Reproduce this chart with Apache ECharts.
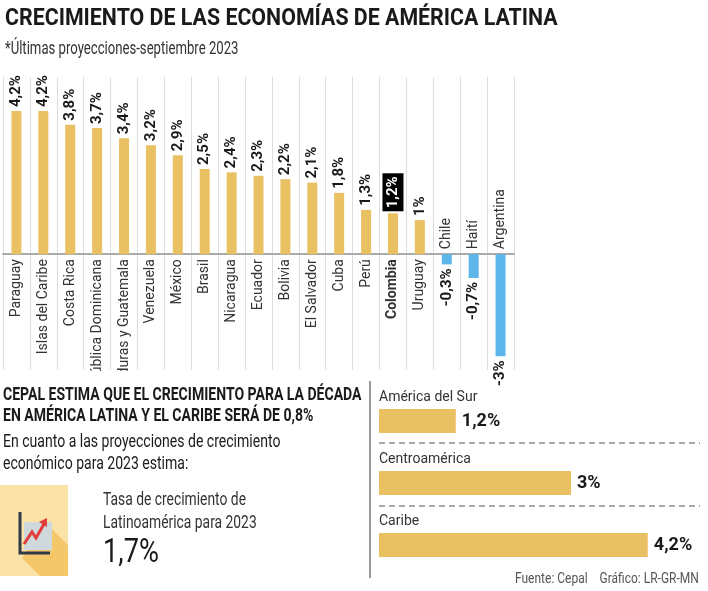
<!DOCTYPE html>
<html>
<head>
<meta charset="utf-8">
<script src="https://cdn.jsdelivr.net/npm/echarts@6/dist/echarts.min.js"></script>
<style>html,body{margin:0;padding:0;background:#fff}#main{width:708px;height:591px}</style>
</head>
<body>
<div id="main"></div>
<script>
var paises = ['Paraguay', 'Islas del Caribe', 'Costa Rica', 'República Dominicana', 'Honduras y Guatemala', 'Venezuela', 'México', 'Brasil', 'Nicaragua', 'Ecuador', 'Bolivia', 'El Salvador', 'Cuba', 'Perú', 'Colombia', 'Uruguay', 'Chile', 'Haití', 'Argentina'];
var crecimiento = [4.2, 4.2, 3.8, 3.7, 3.4, 3.2, 2.9, 2.5, 2.4, 2.3, 2.2, 2.1, 1.8, 1.3, 1.2, 1, -0.3, -0.7, -3];
var regiones = ['América del Sur', 'Centroamérica', 'Caribe'];
var regionValores = [1.2, 3, 4.2];

var FONT = 'Roboto, "Noto Sans", sans-serif';
var AMARILLO = '#e9c163', AZUL = '#5cb6ea';
function pct(v){ return String(v).replace('.', ',') + '%'; }
// textos estrechados (la fuente original es condensada)
function texto(x, y, t, size, sx, extra){
    var st = { text: t, fontFamily: FONT, fontSize: size, fill: '#1a1a1a' };
    for (var k in extra) st[k] = extra[k];
    return { type: 'text', x: x, y: y, scaleX: sx, z: 60, style: st };
}

var chart = echarts.init(document.getElementById('main'));

// barras principales
var barras = crecimiento.map(function(v, i){
    var neg = v < 0;
    var lab = {
        show: true, rotate: 90, fontFamily: FONT, fontWeight: 'bold', fontSize: 15, color: '#1a1a1a',
        position: neg ? 'bottom' : 'top', align: neg ? 'right' : 'left', verticalAlign: 'middle', distance: 4,
        formatter: pct(v)
    };
    if (paises[i] == 'Colombia') {
        lab.backgroundColor = '#000'; lab.color = '#fff'; lab.padding = [3, 3, 3, 3]; lab.distance = 2;
    }
    return { value: v, itemStyle: { color: neg ? AZUL : AMARILLO }, label: lab };
});
// nombres de los paises
var nombres = crecimiento.map(function(v, i){
    var neg = v < 0;
    return {
        value: 0,
        label: {
            show: true, rotate: 90, fontFamily: FONT, fontSize: 14, color: '#333',
            fontWeight: paises[i] == 'Colombia' ? 'bold' : 'normal',
            position: neg ? 'top' : 'bottom', align: neg ? 'left' : 'right', verticalAlign: 'middle', distance: 5,
            formatter: paises[i]
        }
    };
});

var option = {
    animation: false,
    grid: [
        { left: 3, width: 511, top: 77, height: 293 },
        { left: 379, width: 320, top: 390, height: 186 }
    ],
    xAxis: [
        { gridIndex: 0, type: 'category', data: paises,
          axisLine: { onZero: true, lineStyle: { color: '#aaa', width: 2 } },
          axisTick: { show: false }, axisLabel: { show: false },
          splitLine: { show: true, interval: 0, lineStyle: { color: '#ddd' } } },
        { gridIndex: 1, type: 'value', min: 0, max: 5, show: false }
    ],
    yAxis: [
        { gridIndex: 0, type: 'value', min: -3.4, max: 5.2, show: false },
        { gridIndex: 1, type: 'category', data: regiones, inverse: true, show: false }
    ],
    series: [
        { type: 'bar', xAxisIndex: 0, yAxisIndex: 0, barWidth: 10, data: barras },
        { type: 'bar', xAxisIndex: 0, yAxisIndex: 0, barWidth: 10, barGap: '-100%', data: nombres, itemStyle: { color: 'transparent' } },
        { type: 'bar', xAxisIndex: 1, yAxisIndex: 1, barWidth: 24, itemStyle: { color: AMARILLO },
          data: regionValores,
          label: { show: true, position: 'right', distance: 6, fontFamily: FONT, fontWeight: 'bold', fontSize: 18, color: '#1a1a1a',
                   formatter: function(p){ return pct(p.value); } } },
        { type: 'bar', xAxisIndex: 1, yAxisIndex: 1, barWidth: 24, barGap: '-100%', itemStyle: { color: 'transparent' },
          data: regionValores.map(function(){ return 0; }),
          label: { show: true, position: 'top', align: 'left', distance: 5, fontFamily: FONT, fontSize: 14, color: '#333',
                   formatter: function(p){ return regiones[p.dataIndex]; } } }
    ],
    graphic: [
        // tapa el final de las etiquetas largas
        { type: 'rect', z: 50, shape: { x: 0, y: 371, width: 368, height: 220 }, style: { fill: '#fff' } },
        texto(5, 7, 'CRECIMIENTO DE LAS ECONOMÍAS DE AMÉRICA LATINA', 24, 0.89, { fontWeight: 'bold' }),
        texto(5, 40, '*Últimas proyecciones-septiembre 2023', 18, 0.73, { fill: '#333' }),
        { type: 'line', z: 60, shape: { x1: 370, y1: 381, x2: 370, y2: 578 }, style: { stroke: '#777', lineWidth: 1.5 } },
        texto(3, 385, 'CEPAL ESTIMA QUE EL CRECIMIENTO PARA LA DÉCADA\nEN AMÉRICA LATINA Y EL CARIBE SERÁ DE 0,8%', 18, 0.78, { fontWeight: 'bold', lineHeight: 21 }),
        texto(3, 431, 'En cuanto a las proyecciones de crecimiento\neconómico para 2023 estima:', 18, 0.78, { lineHeight: 22 }),
        // icono
        { type: 'rect', z: 60, shape: { x: 0, y: 485, width: 68, height: 91 }, style: { fill: '#fbe2a6' } },
        { type: 'polygon', z: 60, shape: { points: [[45, 522], [68, 545], [68, 576], [40, 576], [22, 558]] }, style: { fill: '#f3c76a' } },
        { type: 'rect', z: 60, shape: { x: 24, y: 522, width: 28, height: 28 }, style: { fill: '#cfd8dc' } },
        { type: 'polyline', z: 60, shape: { points: [[20, 512], [20, 553], [50, 553]] }, style: { stroke: '#2f3b45', lineWidth: 3, fill: null } },
        { type: 'polyline', z: 60, shape: { points: [[24, 544], [32, 532], [36, 538], [44, 524]] }, style: { stroke: '#e23c3c', lineWidth: 3, fill: null } },
        { type: 'polygon', z: 60, shape: { points: [[39, 522], [47, 518], [47, 527]] }, style: { fill: '#e23c3c' } },
        texto(103, 489, 'Tasa de crecimiento de\nLatinoamérica para 2023', 18, 0.77, { lineHeight: 23, fill: '#333' }),
        texto(103, 536, '1,7%', 34, 0.8, {}),
        { type: 'line', z: 60, shape: { x1: 379, y1: 443, x2: 700, y2: 443 }, style: { stroke: '#555', lineDash: [6, 4] } },
        { type: 'line', z: 60, shape: { x1: 379, y1: 506, x2: 700, y2: 506 }, style: { stroke: '#555', lineDash: [6, 4] } },
        texto(515, 572, 'Fuente: Cepal    Gráfico: LR-GR-MN', 15, 0.8, { fill: '#555' })
    ]
};
chart.setOption(option);
</script>
</body>
</html>
